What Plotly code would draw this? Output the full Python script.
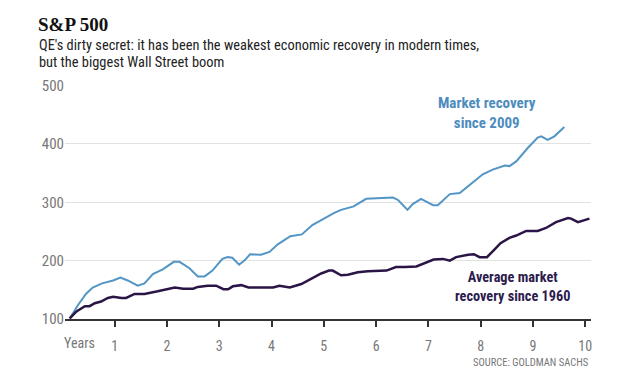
import plotly.graph_objects as go

# Market recovery since 2009 (years since trough, index level)
years_2009 = [0.14, 0.30, 0.45, 0.58, 0.76, 0.97, 1.11, 1.25, 1.44, 1.57, 1.73, 1.92,
              2.13, 2.24, 2.43, 2.59, 2.72, 2.87, 3.06, 3.16, 3.25, 3.38, 3.49, 3.59,
              3.80, 3.96, 4.12, 4.36, 4.58, 4.78, 4.90, 5.07, 5.20, 5.33, 5.57, 5.81,
              6.32, 6.42, 6.51, 6.60, 6.70, 6.86, 6.96, 7.09, 7.18, 7.41, 7.60, 7.79,
              8.04, 8.23, 8.46, 8.55, 8.68, 8.90, 9.09, 9.16, 9.28, 9.41, 9.60]
level_2009 = [101, 124, 143, 154, 161, 166, 171, 166, 157, 161, 177, 185,
              198, 198, 187, 173, 173, 183, 203, 206, 205, 193, 201, 211,
              210, 215, 228, 242, 245, 261, 267, 276, 282, 287, 293, 306,
              308, 304, 295, 287, 297, 306, 301, 295, 295, 314, 316, 330,
              348, 356, 363, 362, 370, 393, 411, 413, 407, 413, 429]

# Average market recovery since 1960
years_1960 = [0.14, 0.27, 0.43, 0.52, 0.62, 0.74, 0.87, 0.97, 1.13, 1.22, 1.38, 1.57,
              1.80, 1.96, 2.15, 2.31, 2.50, 2.59, 2.78, 2.94, 3.08, 3.17, 3.26, 3.42,
              3.56, 3.80, 4.03, 4.15, 4.35, 4.57, 4.79, 4.95, 5.10, 5.17, 5.33, 5.46,
              5.65, 5.84, 6.20, 6.38, 6.55, 6.77, 7.10, 7.28, 7.41, 7.53, 7.76, 7.87,
              7.98, 8.12, 8.23, 8.38, 8.55, 8.68, 8.87, 9.09, 9.25, 9.44, 9.67, 9.73,
              9.86, 10.08]
level_1960 = [101, 113, 122, 122, 127, 130, 136, 138, 136, 136, 143, 143,
              147, 150, 154, 152, 152, 155, 157, 157, 151, 151, 156, 158,
              154, 154, 154, 157, 154, 160, 170, 178, 183, 183, 175, 176,
              180, 182, 183, 189, 189, 190, 202, 203, 200, 206, 210, 211,
              206, 206, 216, 230, 239, 243, 251, 251, 256, 266, 273, 272,
              266, 272]

x_ticks = [1, 2, 3, 4, 5, 6, 7, 8, 9, 10]
y_ticks = [100, 200, 300, 400, 500]

BLUE = "#5395c4"
PURPLE = "#2a1546"
NARROW = "Liberation Sans Narrow, Roboto Condensed, Arial Narrow, Liberation Sans, sans-serif"

fig = go.Figure()
fig.add_trace(go.Scatter(x=years_2009, y=level_2009, mode="lines",
                         line=dict(color=BLUE, width=2), hoverinfo="skip"))
fig.add_trace(go.Scatter(x=years_1960, y=level_1960, mode="lines",
                         line=dict(color=PURPLE, width=2.5), hoverinfo="skip"))

fig.update_layout(
    width=620, height=382,
    margin=dict(l=57, r=37, t=77, b=71),
    paper_bgcolor="white", plot_bgcolor="white",
    showlegend=False,
    font=dict(family=NARROW, color="#777777", size=14),
    xaxis=dict(range=[0.05, 10.11], tickvals=x_ticks, ticktext=[str(v) for v in x_ticks],
               showgrid=False, zeroline=False, showline=True, linecolor="#333333",
               linewidth=1.5, ticks="outside", ticklen=6, tickcolor="#333333",
               tickwidth=1.5, ticklabelstandoff=7,
               tickfont=dict(family=NARROW, size=14, color="#777777")),
    yaxis=dict(range=[100, 501], tickvals=y_ticks, showgrid=True, gridcolor="#e2e2e2",
               gridwidth=1, zeroline=False, showline=False, ticks="",
               tickfont=dict(family=NARROW, size=15, color="#777777")),
)

ann = [
    dict(text="<b>S&amp;P 500</b>", x=28, y=16, font=dict(family="Liberation Serif, DejaVu Serif, serif", size=19, color="#111111")),
    dict(text="QE's dirty secret: it has been the weakest economic recovery in modern times,", x=29, y=38,
         font=dict(family=NARROW, size=14.4, color="#222222")),
    dict(text="but the biggest Wall Street boom", x=29, y=55, font=dict(family=NARROW, size=14.4, color="#222222")),
]
for a in ann:
    fig.add_annotation(text=a["text"], xref="paper", yref="paper",
                       x=(a["x"] - 57) / 526, y=1 + (77 - a["y"]) / 234,
                       xanchor="left", yanchor="middle", showarrow=False, font=a["font"])

fig.add_annotation(text="Years", xref="x", yref="paper", x=0.33, y=-(335 - 311) / 234,
                   xanchor="center", yanchor="middle", showarrow=False,
                   font=dict(family=NARROW, size=14, color="#777777"))
fig.add_annotation(text="SOURCE: GOLDMAN SACHS", xref="paper", yref="paper", x=1, y=-(354 - 311) / 234,
                   xanchor="right", yanchor="middle", showarrow=False,
                   font=dict(family=NARROW, size=10.5, color="#777777"))
fig.add_annotation(text="<b>Market recovery<br>since 2009</b>", xref="x", yref="y", x=8.12, y=(311 - 105) / 0.584 + 100,
                   xanchor="center", yanchor="middle", showarrow=False, align="center",
                   font=dict(family=NARROW, size=15, color="#4d8cbd"))
fig.add_annotation(text="<b>Average market<br>recovery since 1960</b>", xref="x", yref="y", x=8.6, y=(311 - 278.5) / 0.584 + 100,
                   xanchor="center", yanchor="middle", showarrow=False, align="center",
                   font=dict(family=NARROW, size=14.3, color="#2d1b4e"))

fig.write_html("out.html")
